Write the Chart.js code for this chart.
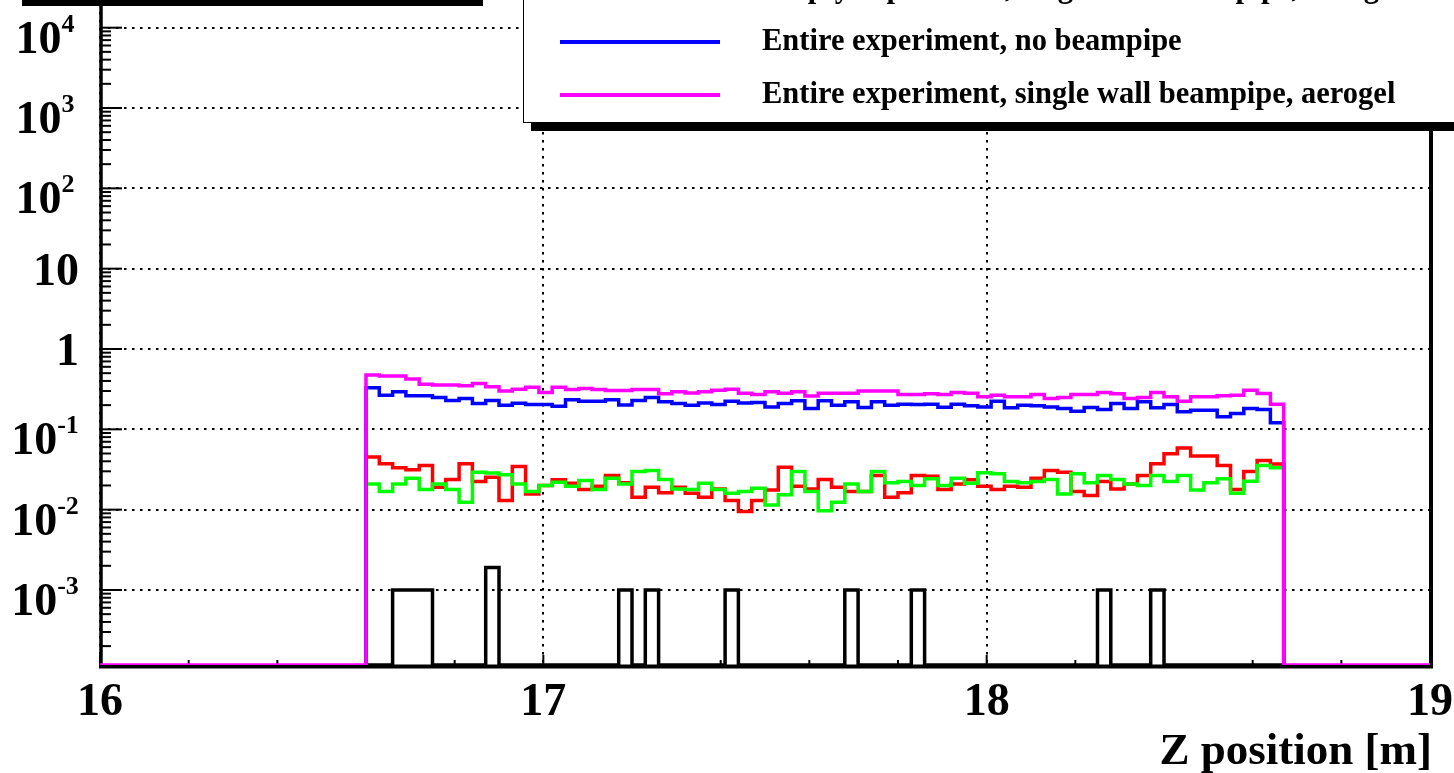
<!DOCTYPE html>
<html>
<head>
<meta charset="utf-8">
<script src="https://cdn.jsdelivr.net/npm/chart.js@4/dist/chart.umd.min.js"></script>
<style>
  html, body { margin: 0; padding: 0; background: #fff; overflow: hidden; }
  body { width: 1454px; height: 773px; position: relative; font-family: 'Liberation Serif', 'Times New Roman', serif; }
  #wrap { position: absolute; left: 0; top: -40px; width: 1454px; height: 813px; }
  #boxShadow { position: absolute; left: 22px; top: 0; width: 461px; height: 6px; background: #000; }
  #legend { position: absolute; left: 523px; top: -80px; width: 960px; height: 201px; background: #fff;
            border: 1.5px solid #000; box-shadow: 8px 8px 0 #000; }
  .sample { position: absolute; left: 36px; width: 160px; height: 3.5px; }
  .label { position: absolute; left: 238px; font-weight: bold; font-size: 30.5px; line-height: 34px;
           white-space: nowrap; color: #000; }
</style>
</head>
<body>
<div id="wrap"><canvas id="chart"></canvas></div>
<div id="boxShadow"></div>
<div id="legend">
  <div class="sample" style="top:66px;background:#000"></div>
  <div class="label" style="top:49px">Empty experiment, single wall beampipe, aerogel</div>
  <div class="sample" style="top:119px;background:#0000ff"></div>
  <div class="label" style="top:102px">Entire experiment, no beampipe</div>
  <div class="sample" style="top:172px;background:#ff00ff"></div>
  <div class="label" style="top:155px">Entire experiment, single wall beampipe, aerogel</div>
</div>
<script>
// axis ranges (log y)
const X_MIN = 16, X_MAX = 19;
const Y_MIN = 1.164e-4, Y_MAX = 2.48e4;

// histogram binning: 69 bins of 0.03 m starting at 16.6 m
const BIN_LO = 16.6, BIN_W = 0.03;

const xTicks = [16, 17, 18, 19];
const yTickExps = [-3, -2, -1, 0, 1, 2, 3, 4];
const xTitle = 'Z position [m]';

const magentaVals = [
  0.473, 0.46, 0.46, 0.422, 0.365, 0.355, 0.355, 0.348, 0.372, 0.338,
  0.301, 0.316, 0.335, 0.287, 0.335, 0.313, 0.322, 0.313, 0.304, 0.304,
  0.313, 0.313, 0.277, 0.293, 0.284, 0.293, 0.307, 0.316, 0.282, 0.271,
  0.293, 0.282, 0.293, 0.259, 0.282, 0.282, 0.282, 0.299, 0.299, 0.301,
  0.271, 0.271, 0.277, 0.271, 0.287, 0.282, 0.254, 0.266, 0.254, 0.254,
  0.271, 0.242, 0.249, 0.271, 0.271, 0.287, 0.277, 0.242, 0.249, 0.287,
  0.254, 0.224, 0.254, 0.254, 0.261, 0.266, 0.307, 0.279, 0.205
];
const blueVals = [
  0.329, 0.266, 0.293, 0.261, 0.261, 0.249, 0.228, 0.242, 0.209, 0.228,
  0.200, 0.211, 0.203, 0.203, 0.194, 0.233, 0.224, 0.224, 0.233, 0.201,
  0.228, 0.249, 0.220, 0.209, 0.200, 0.213, 0.203, 0.224, 0.213, 0.216,
  0.190, 0.209, 0.226, 0.181, 0.226, 0.200, 0.220, 0.187, 0.220, 0.200,
  0.205, 0.203, 0.205, 0.188, 0.205, 0.196, 0.190, 0.224, 0.185, 0.200,
  0.196, 0.190, 0.181, 0.168, 0.187, 0.176, 0.209, 0.181, 0.220, 0.185,
  0.203, 0.165, 0.173, 0.173, 0.143, 0.157, 0.181, 0.176, 0.121
];
const redVals = [
  0.0451, 0.0372, 0.0332, 0.0313, 0.0355, 0.0190, 0.0237, 0.0372, 0.0224, 0.0254,
  0.0130, 0.0345, 0.0157, 0.0200, 0.0235, 0.0213, 0.0178, 0.0196, 0.0266, 0.0216,
  0.0143, 0.0190, 0.0162, 0.0190, 0.0160, 0.0143, 0.0181, 0.0130, 0.0095, 0.0130,
  0.0176, 0.0338, 0.0196, 0.0181, 0.0237, 0.0190, 0.0168, 0.0168, 0.0266, 0.0143,
  0.0162, 0.0266, 0.0261, 0.0178, 0.0209, 0.0235, 0.0196, 0.0178, 0.0196, 0.0190,
  0.0246, 0.0307, 0.0293, 0.0168, 0.0150, 0.0224, 0.0181, 0.0209, 0.0266, 0.0372,
  0.0497, 0.0585, 0.0464, 0.0464, 0.0355, 0.0178, 0.0299, 0.0410, 0.0369
];
const greenVals = [
  0.0209, 0.0168, 0.0209, 0.0246, 0.0178, 0.0209, 0.0178, 0.0124, 0.0293, 0.0285,
  0.0271, 0.0209, 0.0168, 0.0200, 0.0220, 0.0196, 0.0230, 0.0178, 0.0246, 0.0209,
  0.0299, 0.0307, 0.0237, 0.0181, 0.0178, 0.0213, 0.0178, 0.0160, 0.0168, 0.0185,
  0.0114, 0.0153, 0.0299, 0.0168, 0.0097, 0.0124, 0.0209, 0.0168, 0.0299, 0.0216,
  0.0224, 0.0200, 0.0242, 0.0200, 0.0246, 0.0213, 0.0287, 0.0279, 0.0224, 0.0216,
  0.0224, 0.0237, 0.0157, 0.0279, 0.0216, 0.0266, 0.0237, 0.0209, 0.0200, 0.0266,
  0.0224, 0.0266, 0.0176, 0.0216, 0.0242, 0.0160, 0.0226, 0.0355, 0.0332
];
const blackVals = [
  0, 0, 0.001, 0.001, 0.001, 0, 0, 0, 0, 0.0019,
  0, 0, 0, 0, 0, 0, 0, 0, 0, 0.001,
  0, 0.001, 0, 0, 0, 0, 0, 0.001, 0, 0,
  0, 0, 0, 0, 0, 0, 0.001, 0, 0, 0,
  0, 0.001, 0, 0, 0, 0, 0, 0, 0, 0,
  0, 0, 0, 0, 0, 0.001, 0, 0, 0, 0.001,
  0, 0, 0, 0, 0, 0, 0, 0, 0
];

const BASE_FONT = 'bold 46px "Liberation Serif", "Times New Roman", serif';
const EXP_FONT = 'bold 26px "Liberation Serif", "Times New Roman", serif';
const TITLE_FONT = 'bold 45px "Liberation Serif", "Times New Roman", serif';

function edge ( i )
{
    return +( BIN_LO + i * BIN_W ).toFixed( 4 );
}

// histogram outline as stepped points; empty bins sit on the axis minimum
function histPoints ( vals, fullRange )
{
    const pts = [];
    if ( fullRange ) pts.push( { x: X_MIN, y: Y_MIN } );
    pts.push( { x: edge( 0 ), y: Y_MIN } );
    vals.forEach( ( v, i ) => pts.push( { x: edge( i ), y: v > 0 ? v : Y_MIN } ) );
    pts.push( { x: edge( vals.length ), y: Y_MIN } );
    if ( fullRange ) pts.push( { x: X_MAX, y: Y_MIN } );
    return pts;
}

function histSet ( label, vals, color, fullRange )
{
    return {
        label,
        data: histPoints( vals, fullRange ),
        borderColor: color,
        backgroundColor: color,
        borderWidth: 3.5,
        stepped: 'before',
        pointRadius: 0,
        fill: false,
        tension: 0
    };
}

const rootFrame = {
    id: 'root-frame',
    beforeDatasetsDraw ( chart )
    {
        const { ctx, chartArea: a, scales: { x: xs, y: ys } } = chart;
        ctx.save();
        ctx.strokeStyle = '#000';
        ctx.lineCap = 'butt';
        // y ticks (log major + minor)
        ctx.lineWidth = 2;
        for ( let d = -4; d <= 4; d++ )
        {
            for ( let k = 1; k <= 9; k++ )
            {
                const v = k * Math.pow( 10, d );
                if ( v < Y_MIN || v > Y_MAX ) continue;
                const py = ys.getPixelForValue( v );
                ctx.beginPath();
                ctx.moveTo( a.left, py );
                ctx.lineTo( a.left + ( k === 1 ? 22 : 11 ), py );
                ctx.stroke();
            }
        }
        // x ticks every 0.2
        for ( let k = 0; k <= 15; k++ )
        {
            const px = xs.getPixelForValue( X_MIN + k * 0.2 );
            ctx.beginPath();
            ctx.moveTo( px, a.bottom );
            ctx.lineTo( px, a.bottom - ( k % 5 === 0 ? 10 : 5 ) );
            ctx.stroke();
        }
        // frame
        ctx.lineWidth = 3.5;
        ctx.beginPath();
        ctx.moveTo( a.left + 1, a.top - 10 );
        ctx.lineTo( a.left + 1, a.bottom + 1.5 );
        ctx.stroke();
        ctx.lineWidth = 4;
        ctx.beginPath();
        ctx.moveTo( a.left - 1, a.bottom + 1.5 );
        ctx.lineTo( a.right + 3, a.bottom + 1.5 );
        ctx.moveTo( a.right + 1, a.bottom + 3.5 );
        ctx.lineTo( a.right + 1, a.top - 10 );
        ctx.stroke();
        ctx.restore();
    },
    afterDraw ( chart )
    {
        const { ctx, chartArea: a, scales: { x: xs, y: ys } } = chart;
        ctx.save();
        ctx.fillStyle = '#000';
        ctx.textBaseline = 'alphabetic';
        yTickExps.forEach( d =>
        {
            const py = ys.getPixelForValue( Math.pow( 10, d ) );
            if ( d === 0 || d === 1 )
            {
                ctx.font = BASE_FONT;
                ctx.textAlign = 'right';
                ctx.fillText( d === 0 ? '1' : '10', 79, py + 16 );
                return;
            }
            const exp = String( d );
            ctx.font = BASE_FONT;
            const wb = ctx.measureText( '10' ).width;
            ctx.font = EXP_FONT;
            const we = ctx.measureText( exp ).width;
            const x0 = 45 - ( wb + we ) / 2;
            ctx.textAlign = 'left';
            ctx.font = BASE_FONT;
            ctx.fillText( '10', x0, py + 25 );
            ctx.font = EXP_FONT;
            ctx.fillText( exp, x0 + wb, py + 4 );
        } );
        ctx.font = BASE_FONT;
        ctx.textAlign = 'center';
        xTicks.forEach( v => ctx.fillText( String( v ), xs.getPixelForValue( v ), a.bottom + 50 ) );
        ctx.font = TITLE_FONT;
        ctx.textAlign = 'right';
        ctx.fillText( xTitle, a.right + 2, a.bottom + 99 );
        ctx.restore();
    }
};

new Chart( document.getElementById( 'chart' ), {
    type: 'line',
    data: {
        datasets: [
            histSet( 'Entire experiment, single wall beampipe, aerogel', magentaVals, '#ff00ff', true ),
            histSet( 'Entire experiment, no beampipe', blueVals, '#0000ff', false ),
            histSet( 'green', greenVals, '#00ff00', false ),
            histSet( 'red', redVals, '#ff0000', false ),
            histSet( 'black', blackVals, '#000000', false )
        ]
    },
    options: {
        responsive: true,
        maintainAspectRatio: false,
        animation: false,
        events: [],
        layout: { padding: { left: 100, right: 24, top: 36, bottom: 108 } },
        plugins: { legend: { display: false }, tooltip: { enabled: false } },
        scales: {
            x: {
                type: 'linear',
                min: X_MIN,
                max: X_MAX,
                afterBuildTicks: s => { s.ticks = xTicks.map( v => ( { value: v } ) ); },
                ticks: { display: false },
                grid: { color: '#000', lineWidth: 2, drawTicks: false },
                border: { display: false, dash: [ 2.5, 5.5 ] }
            },
            y: {
                type: 'logarithmic',
                min: Y_MIN,
                max: Y_MAX,
                afterBuildTicks: s => { s.ticks = yTickExps.map( d => ( { value: Math.pow( 10, d ) } ) ); },
                ticks: { display: false },
                grid: { color: '#000', lineWidth: 2, drawTicks: false },
                border: { display: false, dash: [ 2.5, 5.5 ] }
            }
        }
    },
    plugins: [ rootFrame ]
} );
</script>
</body>
</html>
